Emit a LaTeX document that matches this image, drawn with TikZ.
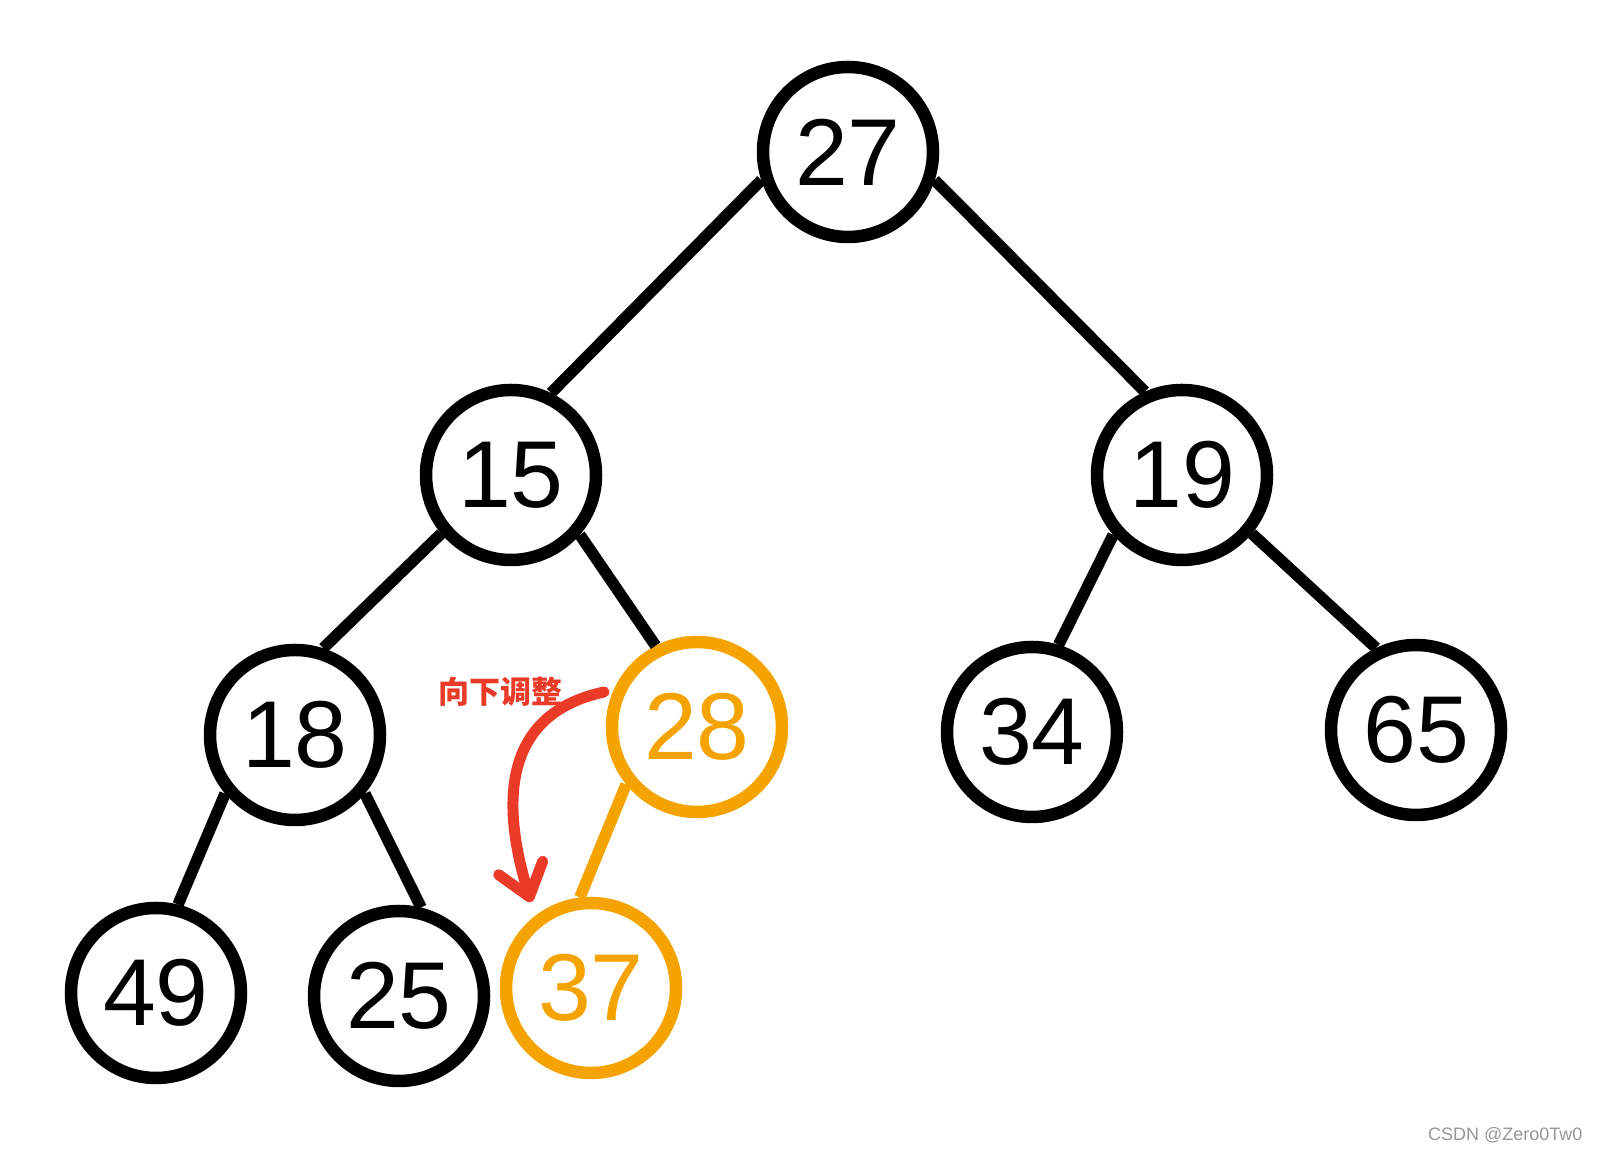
\documentclass[tikz,border=0pt]{standalone}
\usepackage{fontspec}
\setmainfont{Liberation Sans}
\newfontfamily\cjk{Noto Sans CJK SC}
\usetikzlibrary{arrows.meta}
\definecolor{heaporange}{RGB}{245,163,0}
\definecolor{heapred}{RGB}{234,58,40}
\definecolor{wmgray}{RGB}{150,150,150}
\tikzset{
  hnode/.style={circle,draw=black,line width=12.5pt,minimum size=170pt,inner sep=0pt,
    font=\fontsize{95}{95}\selectfont},
  onode/.style={hnode,draw=heaporange,text=heaporange},
  hedge/.style={line width=11.5pt,draw=black},
  oedge/.style={hedge,draw=heaporange},
  redarrow/.style={line width=11pt,draw=heapred,line cap=round,
    -{Straight Barb[length=30pt,width=46pt,round]}},
}
\begin{document}
\begin{tikzpicture}[x=1pt,y=1pt]
\useasboundingbox (0,0) rectangle (1600,1155);
\node[hnode] (n27) at (848,1003) {27};
\node[hnode] (n15) at (511,680) {15};
\node[hnode] (n19) at (1182,680) {19};
\node[hnode] (n18) at (295,420) {18};
\node[onode] (n28) at (697,428) {28};
\node[hnode] (n34) at (1032,423) {34};
\node[hnode] (n65) at (1416,425) {65};
\node[hnode] (n49) at (156,162) {49};
\node[hnode] (n25) at (399,159) {25};
\node[onode] (n37) at (591,167) {37};

\draw[hedge] (n27.198) -- (n15.64);
\draw[hedge] (n27.342) -- (n19.114);
\draw[hedge] (n15.220) -- (n18.72);
\draw[hedge] (n15.319) -- (n28.117);
\draw[hedge] (n19.221) -- (n34.73);
\draw[hedge] (n19.320) -- (n65.116);
\draw[hedge] (n18.220) -- (n49.76);
\draw[hedge] (n18.320) -- (n25.76);
\draw[oedge] (n28.219) -- (n37.97);

\coordinate (rs) at (604,463);
\coordinate (re) at (531,253);
\draw[redarrow] (rs) .. controls (498,440) and (503,345) .. (re);
\node[text=heapred,font=\cjk\bfseries\fontsize{31}{31}\selectfont] (lbl) at (500,463) {向下调整};

\node[text=wmgray,font=\fontsize{18}{18}\selectfont,anchor=east] (wm) at (1586,20) {CSDN @Zero0Tw0};
\end{tikzpicture}
\end{document}
